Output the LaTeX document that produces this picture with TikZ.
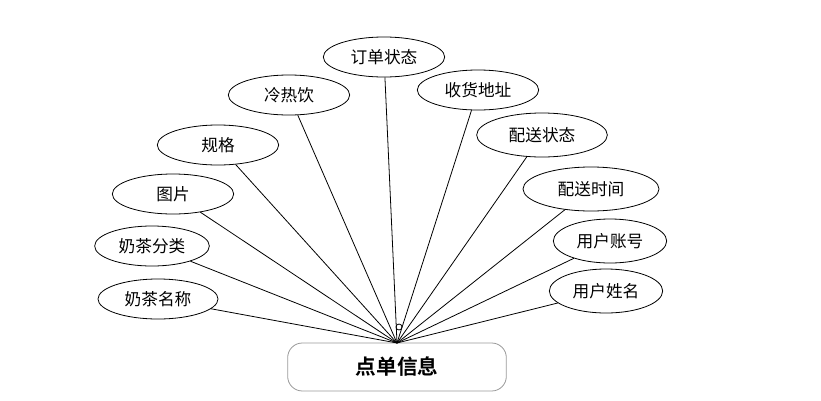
\documentclass[tikz,border=0pt]{standalone}
\usepackage{fontspec}
\newfontfamily\cjk{Noto Sans CJK SC}[BoldFont={Noto Sans CJK SC Bold}]
\usetikzlibrary{shapes.geometric}

\begin{document}
\begin{tikzpicture}[
  x=0.75pt,y=-0.75pt,
  attr/.style={ellipse,draw,line width=0.6pt,minimum height=30pt,inner sep=0pt,font=\cjk\fontsize{12.5}{14}\selectfont},
  entity/.style={rectangle,rounded corners=11pt,draw=gray!80,line width=0.6pt,minimum width=164pt,minimum height=36pt,font=\cjk\bfseries\fontsize{15.5}{17}\selectfont},
  edge/.style={line width=0.6pt}
]
\useasboundingbox (0,0) rectangle (821,400);

\node[entity] (E) at (397,367) {点单信息};
\coordinate (P) at (397,343);

\node[attr,minimum width=90pt] (a1) at (158,299) {奶茶名称};
\node[attr,minimum width=86pt] (a2) at (152,246) {奶茶分类};
\node[attr,minimum width=91pt] (a3) at (173,194) {图片};
\node[attr,minimum width=91pt] (a4) at (218,145) {规格};
\node[attr,minimum width=91pt] (a5) at (289,95) {冷热饮};
\node[attr,minimum width=91pt] (a6) at (384,57) {订单状态};
\node[attr,minimum width=91pt] (a7) at (478,90) {收货地址};
\node[attr,minimum width=98pt,minimum height=33pt] (a8) at (542,135) {配送状态};
\node[attr,minimum width=102pt,minimum height=33pt] (a9) at (591,189) {配送时间};
\node[attr,minimum width=85pt,minimum height=33pt] (a10) at (610,241) {用户账号};
\node[attr,minimum width=85pt,minimum height=33pt] (a11) at (606,291) {用户姓名};

\foreach \i in {1,...,11}
  \draw[edge] (a\i)--(P);

% small loop above the box
\draw[edge] (399,327) circle (3);
\end{tikzpicture}
\end{document}
